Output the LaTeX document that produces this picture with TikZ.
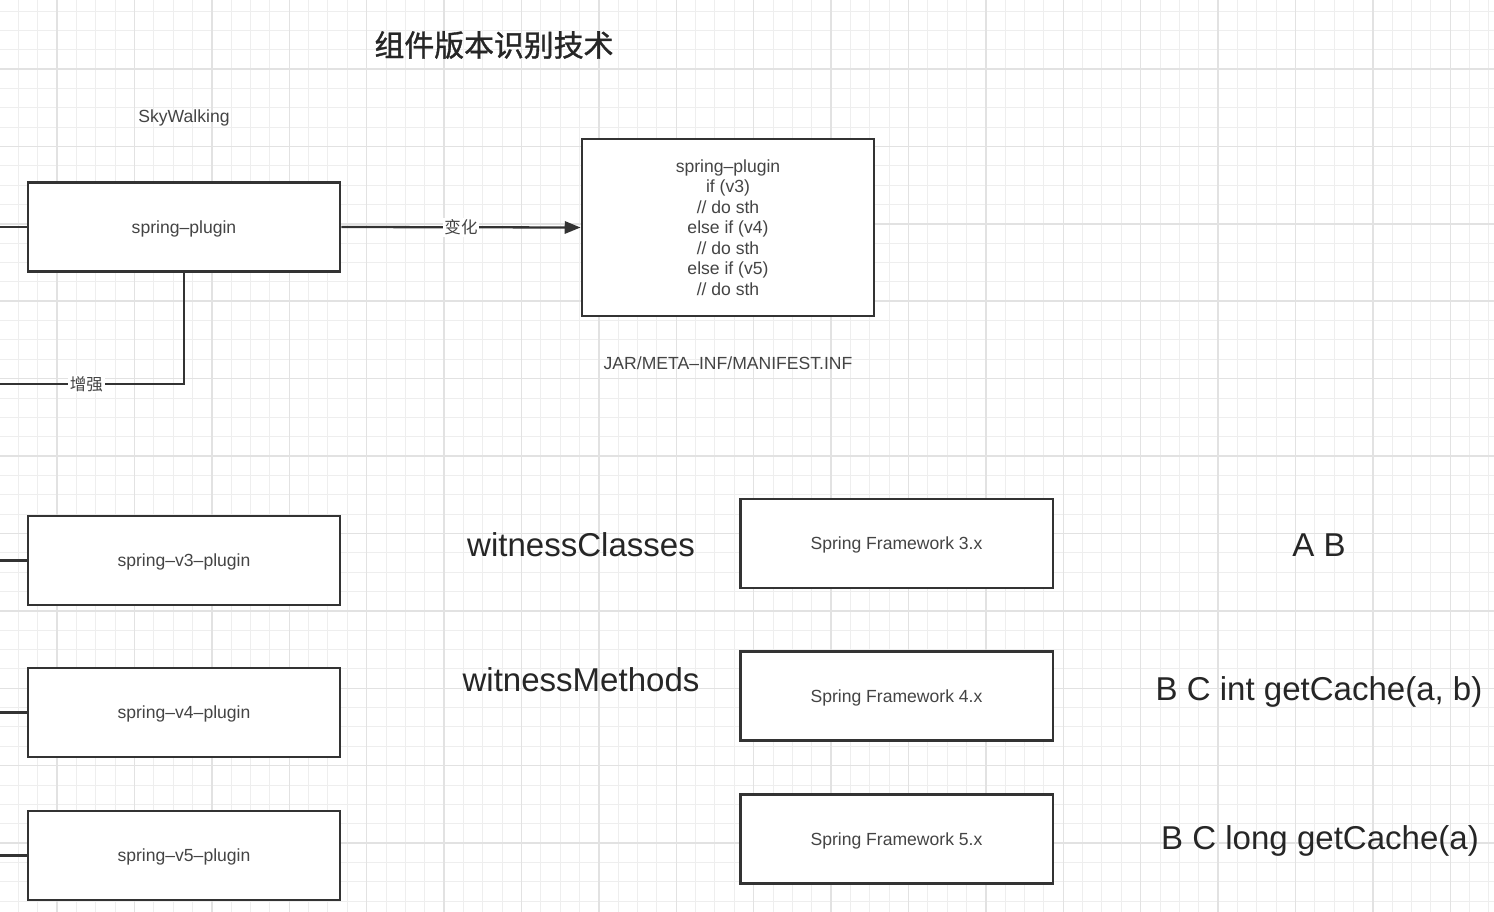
\documentclass[tikz,border=0pt]{standalone}
\usepackage{fontspec}
\setmainfont{Liberation Sans}
\newfontfamily\cjk{Noto Sans CJK SC}
\newfontfamily\cjktitle[FakeBold=1.2]{Noto Sans CJK SC}
\usetikzlibrary{arrows.meta, positioning}

\definecolor{ink}{HTML}{333333}
\definecolor{txt}{HTML}{444444}
\definecolor{gridminor}{HTML}{EEEEEE}
\definecolor{gridmajor}{HTML}{E2E2E2}

\tikzset{
	box/.style={draw=ink, line width=1.4pt, fill=white, text=txt,
		minimum width=6.25cm, minimum height=1.78cm, inner sep=0pt, text depth=0pt,
		font=\fontsize{10}{11.7}\selectfont},
	wire/.style={draw=ink, line width=1.3pt},
	lbl/.style={fill=white, text=txt, inner sep=1pt, font=\cjk\fontsize{9.4}{11}\selectfont},
	small/.style={text=txt, font=\fontsize{10}{11.7}\selectfont},
	big/.style={text=black!85, font=\fontsize{18.8}{22}\selectfont},
}

\begin{document}
\begin{tikzpicture}[x=0.02cm, y=-0.02cm]
	\useasboundingbox (0,0) rectangle (1494,912);
	\clip (0,0) rectangle (1494,912);

	% background grid
	\fill[white] (0,0) rectangle (1494,912);
	\foreach \i in {0,...,77}
	{
		\draw[gridminor, line width=0.5pt] ({-1.05+19.35*\i},0) -- ++(0,912);
	}
	\foreach \j in {0,...,48}
	{
		\draw[gridminor, line width=0.5pt] (0,{-8.4+19.35*\j}) -- ++(1494,0);
	}
	\foreach \i in {0,...,19}
	{
		\draw[gridmajor, line width=0.8pt] ({-20.4+77.4*\i},0) -- ++(0,912);
	}
	\foreach \j in {0,...,12}
	{
		\draw[gridmajor, line width=0.8pt] (0,{-8.4+77.4*\j}) -- ++(1494,0);
	}

	% texts
	\node[text=black!85, font=\cjktitle\fontsize{17}{20}\selectfont] (title) at (494,45) {组件版本识别技术};
	\node[small] (sky) at (184,118) {SkyWalking};

	% upper part
	\node[box] (sp) at (184,227) {spring–plugin};
	\node[box, minimum width=5.85cm, minimum height=3.55cm, align=center] (code) at (728,227.5)
		{spring–plugin\\ if (v3)\\ // do sth\\ else if (v4)\\ // do sth\\ else if (v5)\\ // do sth};
	\node[small] (manifest) at (728,363) {JAR/META–INF/MANIFEST.INF};

	\coordinate (in0) at (0,227);
	\coordinate (in1) at (0,384);
	\draw[wire] (in0) -- (sp.west);
	\draw[wire, -{Triangle[length=9pt, width=7pt]}] (sp.east) -- node[lbl] {变化} (code.west);
	\draw[wire] (sp.south) |- node[lbl, pos=0.765] {增强} (in1);

	% plugins
	\foreach \v/\y in {3/560.5, 4/712.5, 5/855.5}
	{
		\node[box] (v\v) at (184,\y) {spring–v\v–plugin};
		\coordinate (in\v) at (0,\y);
		\draw[wire] (in\v) -- (v\v.west);
	}

	% frameworks
	\foreach \v/\y in {3/543.5, 4/696, 5/839}
	{
		\node[box] (fw\v) at (896.5,\y) {Spring Framework \v.x};
	}

	\node[big] (wc) at (581,545) {witnessClasses};
	\node[big] (wm) at (581,680) {witnessMethods};
	\node[big] (ab) at (1319,545) {A B};
	\node[big] (bcint) at (1319,692) {B C int getCache(a, b)};
	\node[big] (bclong) at (1320,841) {B C long getCache(a)};
\end{tikzpicture}
\end{document}
